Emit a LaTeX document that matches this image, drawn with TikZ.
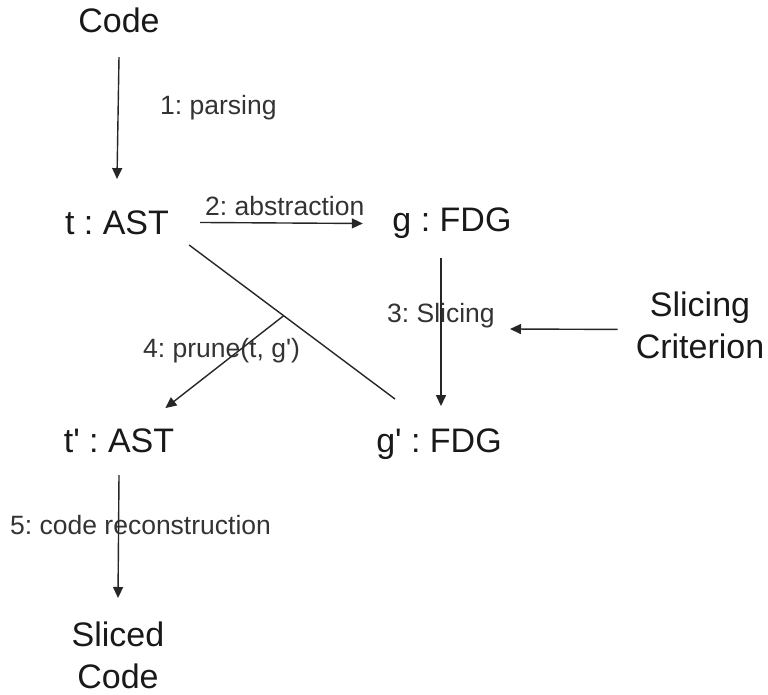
\documentclass[tikz,border=0pt]{standalone}
\usepackage{fontspec}
\setmainfont{Liberation Sans}[Ligatures=TeXOff]
\usetikzlibrary{arrows.meta}
\frenchspacing
\begin{document}
\begin{tikzpicture}[x=1pt,y=-1pt,
  big/.style={font=\fontsize{34}{41.5}\selectfont, inner sep=0pt, text=black!90},
  lbl/.style={font=\fontsize{26.5}{30}\selectfont, inner sep=0pt, anchor=base west, text=black!80},
  arr/.style={line width=1.4pt, draw=black!85, -{Triangle[length=11pt,width=10pt]}},
  plain/.style={line width=1.4pt, draw=black!85}]
\useasboundingbox (0,0) rectangle (768,695);
% nodes
\node[big, anchor=base] (code) at (119,33) {Code};
\node[big, anchor=base] (tast) at (117,234) {t : AST};
\node[big, anchor=base] (gfdg) at (452,232) {g : FDG};
\node[big, anchor=north, align=center] (crit) at (700,292) {Slicing\\Criterion};
\node[big, anchor=base] (tprime) at (119,452) {t' : AST};
\node[big, anchor=base] (gp) at (439,452) {g' : FDG};
\node[big, anchor=north, align=center] (sliced) at (118,622) {Sliced\\Code};
% labels
\node[lbl] (l1) at (160,115) {1: parsing};
\node[lbl] (l2) at (205,215) {2: abstraction};
\node[lbl] (l3) at (387,322) {3: Slicing};
\node[lbl] (l4) at (143,357) {4: prune(t, g')};
\node[lbl] (l5) at (10,534) {5: code reconstruction};
% connectors
\draw[arr] ([yshift=-23.5pt]code.south) -- ([yshift=31pt]tast.north);
\draw[arr, shorten <=31pt, shorten >=29.5pt] (tast.east) -- (gfdg.west);
\draw[arr] ([xshift=-11pt,yshift=-19pt]gfdg.south) -- ([xshift=2pt,yshift=22pt]gp.north);
\coordinate (critend) at (510,329);
\draw[arr] ([xshift=-18pt,yshift=-4pt]crit.west) -- (critend);
\path ([xshift=20pt,yshift=-10.5pt]tast.south east) coordinate (dA)
      ([xshift=19pt,yshift=29pt]gp.north west) coordinate (dB);
\draw[plain] (dA) -- (dB);
\path (dA) -- (dB) coordinate[pos=0.459] (pr);
\draw[arr] (pr) -- ([xshift=-9pt,yshift=20pt]tprime.north east);
\draw[arr] ([yshift=-22.5pt]tprime.south) -- ([yshift=24pt]sliced.north);
\end{tikzpicture}
\end{document}
